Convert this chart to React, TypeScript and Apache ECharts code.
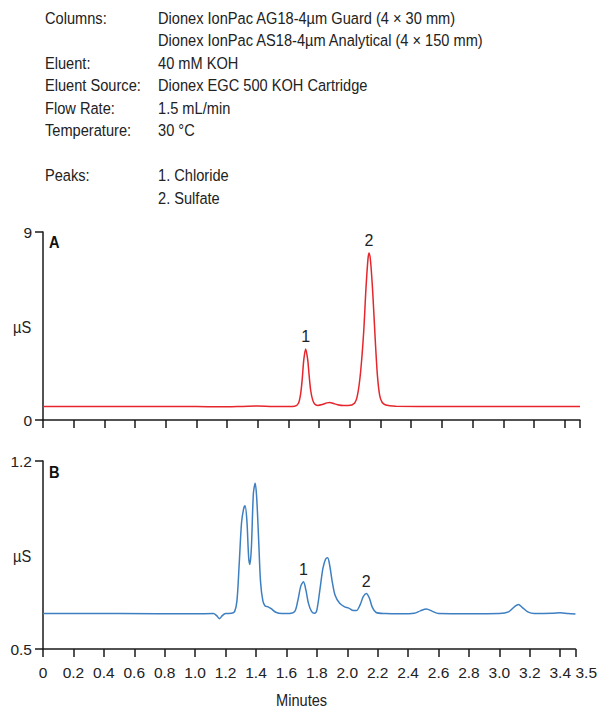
import React, { useEffect, useRef } from "react";
import * as echarts from "echarts";

const headerLabels = ["Columns:", "", "Eluent:", "Eluent Source:", "Flow Rate:", "Temperature:", "", "Peaks:", ""];
const headerValues = [
  "Dionex IonPac AG18-4µm Guard (4 × 30 mm)",
  "Dionex IonPac AS18-4µm Analytical (4 × 150 mm)",
  "40 mM KOH",
  "Dionex EGC 500 KOH Cartridge",
  "1.5 mL/min",
  "30 °C",
  "",
  "1. Chloride",
  "2. Sulfate",
];

const xTicks = [0, 0.2, 0.4, 0.6, 0.8, 1.0, 1.2, 1.4, 1.6, 1.8, 2.0, 2.2, 2.4, 2.6, 2.8, 3.0, 3.2, 3.4, 3.5];
const yTicksA = [0, 9];
const yTicksB = [0.5, 1.2];

const traceA: [number, number][] = [
  [0, 0.65], [0.5, 0.65], [1.0, 0.65], [1.15, 0.63], [1.3, 0.65], [1.4, 0.67], [1.5, 0.65],
  [1.6, 0.65], [1.64, 0.66], [1.665, 0.8], [1.68, 1.3], [1.69, 2.0], [1.7, 2.9], [1.712, 3.4],
  [1.725, 2.9], [1.735, 2.1], [1.745, 1.4], [1.758, 0.95], [1.772, 0.75], [1.79, 0.7], [1.82, 0.74],
  [1.85, 0.82], [1.87, 0.84], [1.89, 0.8], [1.92, 0.73], [1.96, 0.69], [1.99, 0.69], [2.03, 0.8],
  [2.05, 1.2], [2.07, 2.3], [2.09, 4.2], [2.105, 6.3], [2.118, 7.7], [2.125, 8.0], [2.135, 7.6],
  [2.15, 6.0], [2.165, 3.9], [2.18, 2.1], [2.195, 1.15], [2.21, 0.85], [2.23, 0.73], [2.26, 0.68],
  [2.3, 0.66], [2.6, 0.65], [3.0, 0.65], [3.5, 0.65],
];

const traceB: [number, number][] = [
  [0, 0.632], [0.5, 0.632], [1.0, 0.631], [1.12, 0.632], [1.14, 0.625], [1.16, 0.613], [1.18, 0.625],
  [1.2, 0.632], [1.24, 0.633], [1.26, 0.64], [1.275, 0.68], [1.29, 0.82], [1.305, 0.97], [1.318, 1.02],
  [1.328, 1.033], [1.34, 0.98], [1.352, 0.84], [1.36, 0.815], [1.37, 0.88], [1.383, 1.08], [1.395, 1.117],
  [1.405, 1.06], [1.418, 0.9], [1.43, 0.75], [1.445, 0.68], [1.46, 0.66], [1.48, 0.657], [1.5, 0.65],
  [1.53, 0.637], [1.57, 0.632], [1.62, 0.632], [1.655, 0.64], [1.675, 0.68], [1.695, 0.735], [1.712, 0.75],
  [1.728, 0.72], [1.745, 0.67], [1.765, 0.64], [1.785, 0.633], [1.8, 0.645], [1.82, 0.72], [1.84, 0.8],
  [1.858, 0.835], [1.871, 0.84], [1.885, 0.81], [1.9, 0.755], [1.92, 0.7], [1.95, 0.67], [1.98, 0.658],
  [2.01, 0.652], [2.04, 0.643], [2.06, 0.643], [2.085, 0.665], [2.105, 0.695], [2.125, 0.707], [2.145, 0.69],
  [2.165, 0.655], [2.19, 0.636], [2.25, 0.632], [2.35, 0.631], [2.44, 0.633], [2.48, 0.642], [2.52, 0.649],
  [2.56, 0.64], [2.6, 0.632], [2.8, 0.631], [3.0, 0.632], [3.06, 0.638], [3.1, 0.658], [3.125, 0.666],
  [3.15, 0.655], [3.19, 0.637], [3.23, 0.632], [3.35, 0.633], [3.4, 0.635], [3.45, 0.632], [3.5, 0.63],
];

const peaksA = [{ name: "1", coord: [1.712, 3.4] }, { name: "2", coord: [2.125, 8.0] }];
const peaksB = [{ name: "1", coord: [1.712, 0.75] }, { name: "2", coord: [2.125, 0.707] }];

const FONT = "'Liberation Sans', Arial, sans-serif";
const TXT = "#222";
const AX = "#1a1a1a";
const SX = 0.86;

export default function App() {
  const ref = useRef<HTMLDivElement>(null);
  useEffect(() => {
    document.body.style.margin = "0";
    const chart = echarts.init(ref.current!, null, { renderer: "svg" });

    const txt = (text: string, x: number, y: number, extra: any = {}) => ({
      type: "text",
      x,
      y,
      scaleX: SX,
      style: { text, fill: TXT, fontSize: 17, fontFamily: FONT, verticalAlign: "middle", ...extra },
    });

    const graphic: any[] = [];
    headerLabels.forEach((t, i) => {
      if (t) graphic.push(txt(t, 45, 18 + i * 22.5));
    });
    headerValues.forEach((t, i) => {
      if (t) graphic.push(txt(t, 158, 18 + i * 22.5));
    });
    graphic.push(txt("A", 49, 242, { fontWeight: "bold", fill: "#111" }));
    graphic.push(txt("B", 49, 472, { fontWeight: "bold", fill: "#111" }));
    graphic.push(txt("µS", 13, 327));
    graphic.push(txt("µS", 13, 556));
    graphic.push(txt("Minutes", 276, 700));

    const xAxisBase = (showLabels: boolean, gridIndex: number) => ({
      type: "value",
      gridIndex,
      min: 0,
      max: 3.5,
      axisLine: { show: true, lineStyle: { color: AX, width: 1.5 } },
      axisTick: { show: true, length: 8, customValues: xTicks, lineStyle: { color: AX, width: 1.5 } },
      axisLabel: {
        show: showLabels,
        customValues: xTicks,
        showMaxLabel: true,
        showMinLabel: true,
        alignMaxLabel: "left",
        margin: 15,
        color: TXT,
        fontSize: 15.5,
        fontFamily: FONT,
        formatter: (v: number) => (v === 0 ? "0" : v.toFixed(1)),
      },
      splitLine: { show: false },
    });

    const yAxisBase = (min: number, max: number, ticks: number[], gridIndex: number) => ({
      type: "value",
      gridIndex,
      min,
      max,
      axisLine: { show: true, lineStyle: { color: AX, width: 1.5 } },
      axisTick: { show: true, length: 8, customValues: ticks, lineStyle: { color: AX, width: 1.5 } },
      axisLabel: { show: true, customValues: ticks, showMaxLabel: true, showMinLabel: true, margin: 11, color: TXT, fontSize: 15.5, fontFamily: FONT },
      splitLine: { show: false },
    });

    const markLabel = {
      show: true,
      position: "top",
      distance: 4,
      color: TXT,
      fontSize: 16,
      fontFamily: FONT,
      formatter: (p: any) => p.name,
    };

    chart.setOption({
      animation: false,
      backgroundColor: "#fff",
      grid: [
        { left: 43, right: 20, top: 232, height: 188 },
        { left: 43, right: 20, top: 461, height: 188 },
      ],
      xAxis: [xAxisBase(false, 0), xAxisBase(true, 1)],
      yAxis: [yAxisBase(0, 9, yTicksA, 0), yAxisBase(0.5, 1.2, yTicksB, 1)],
      graphic,
      series: [
        {
          type: "line",
          xAxisIndex: 0,
          yAxisIndex: 0,
          data: traceA,
          smooth: 0.3,
          showSymbol: false,
          lineStyle: { color: "#e5262c", width: 1.5 },
          itemStyle: { color: "#e5262c" },
          markPoint: { symbol: "circle", symbolSize: 0, data: peaksA, label: markLabel },
        },
        {
          type: "line",
          xAxisIndex: 1,
          yAxisIndex: 1,
          data: traceB,
          smooth: 0.3,
          showSymbol: false,
          lineStyle: { color: "#3d7fc1", width: 1.5 },
          itemStyle: { color: "#3d7fc1" },
          markPoint: { symbol: "circle", symbolSize: 0, data: peaksB, label: markLabel },
        },
      ],
    });
    return () => chart.dispose();
  }, []);
  return <div ref={ref} style={{ width: 600, height: 709 }} />;
}
